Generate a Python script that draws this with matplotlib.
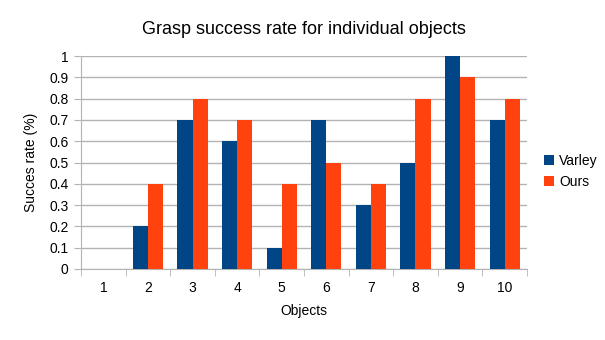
import matplotlib.pyplot as plt
import numpy as np

plt.rcParams['font.family'] = ['Liberation Sans', 'DejaVu Sans']

objects = ['1', '2', '3', '4', '5', '6', '7', '8', '9', '10']
varley = [0.0, 0.2, 0.7, 0.6, 0.1, 0.7, 0.3, 0.5, 1.0, 0.7]
ours = [0.0, 0.4, 0.8, 0.7, 0.4, 0.5, 0.4, 0.8, 0.9, 0.8]

fig = plt.figure(figsize=(6.05, 3.40), dpi=100)
ax = fig.add_axes([0.134, 0.209, 0.737, 0.626])

x = np.arange(len(objects))
w = 0.34
ax.bar(x - w / 2, varley, w, color='#004586', label='Varley', zorder=3)
ax.bar(x + w / 2, ours, w, color='#ff420e', label='Ours', zorder=3)

ax.set_xlim(-0.5, len(objects) - 0.5)
ax.set_ylim(0, 1)
ax.set_yticks(np.arange(0, 1.01, 0.1))
ax.set_yticklabels(['0', '0.1', '0.2', '0.3', '0.4', '0.5', '0.6', '0.7', '0.8', '0.9', '1'])
ax.set_xticks(x)
ax.set_xticklabels(objects)
ax.set_xticks(np.arange(-0.5, len(objects), 1), minor=True)
ax.tick_params(axis='x', which='major', length=0, pad=9, labelsize=10)
ax.tick_params(axis='x', which='minor', length=5, color='#b3b3b3')
ax.tick_params(axis='y', length=5, color='#b3b3b3', labelsize=10, pad=4)

ax.grid(axis='y', color='#b3b3b3', linewidth=1, zorder=0)
for s in ['top', 'right']:
    ax.spines[s].set_visible(False)
for s in ['left', 'bottom']:
    ax.spines[s].set_color('#b3b3b3')

ax.set_title('Grasp success rate for individual objects', fontsize=13, pad=16)
ax.set_xlabel('Objects', fontsize=10, labelpad=6)
ax.set_ylabel('Succes rate (%)', fontsize=10, labelpad=8)

ax.legend(loc='center left', bbox_to_anchor=(1.01, 0.46), frameon=False,
          handlelength=0.7, handleheight=0.7, handletextpad=0.4, labelspacing=0.5,
          fontsize=10)

plt.savefig('out.png', dpi=100)
plt.close()
